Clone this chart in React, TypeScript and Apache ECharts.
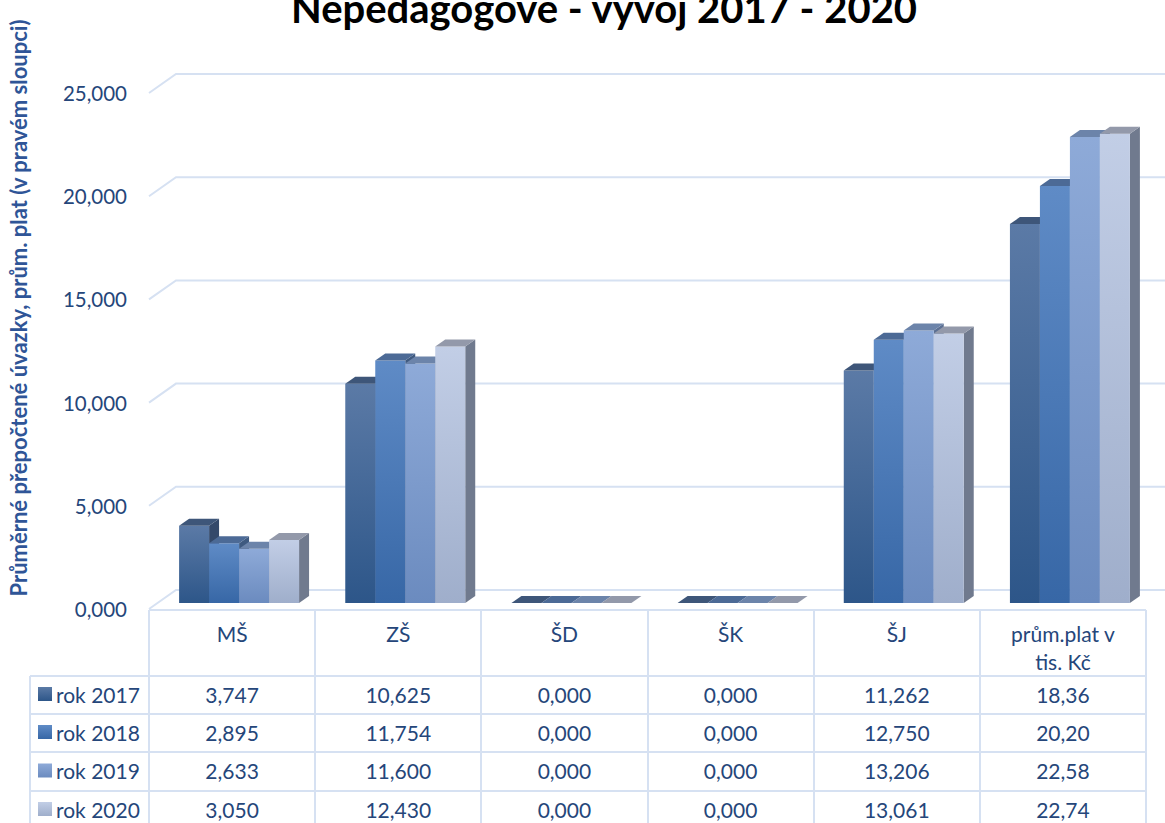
import React, { useEffect, useRef } from "react";
import * as echarts from "echarts";

const categories = ["MŠ", "ZŠ", "ŠD", "ŠK", "ŠJ", "prům.plat v\ntis. Kč"];
const years = ["rok 2017", "rok 2018", "rok 2019", "rok 2020"];
const v2017 = [3.747, 10.625, 0, 0, 11.262, 18.36];
const v2018 = [2.895, 11.754, 0, 0, 12.75, 20.2];
const v2019 = [2.633, 11.6, 0, 0, 13.206, 22.58];
const v2020 = [3.05, 12.43, 0, 0, 13.061, 22.74];
const yTicks = [0, 5, 10, 15, 20, 25];
const seriesValues = [v2017, v2018, v2019, v2020];

const TITLE = "Nepedagogové - vývoj 2017 - 2020";
const YNAME = "Průměrné přepočtené úvazky, prům. plat (v pravém sloupci)";

const FONT = "Lato, 'Open Sans', sans-serif";
const TXT = "#25467a";
const LINE = "#d6e1f2";

const barStyles = [
  { top: "#5b7aa6", bottom: "#2d5689", cap: "#3e5679", side: "#34496a" },
  { top: "#5f8bc6", bottom: "#3767a6", cap: "#4c6a96", side: "#3f5a80" },
  { top: "#8eaad8", bottom: "#6b8bbf", cap: "#6c84aa", side: "#5c7093" },
  { top: "#c2cee6", bottom: "#9faecb", cap: "#9399aa", side: "#707a8e" },
];

// layout
const PLOT_LEFT = 149;
const PLOT_RIGHT = 1146;
const ZERO_Y = 609;
const TOP_Y = 93;
const W = 1165;
const H = 823;
const TABLE_LEFT = 30;
const ROW_LINES = [676, 714, 752, 791, 829];
const BACK_DX = 27;
const BACK_DY = -19;
const BAR_DX = 7;
const BAR_DY = -6;
const CAP_DX = 10;
const CAP_DY = -7;
const BAR_FRAC = 0.1805;

function fmt(v: number, col: number) {
  return v.toFixed(col === 5 ? 2 : 3).replace(".", ",");
}

export default function App() {
  const ref = useRef<HTMLDivElement>(null);
  useEffect(() => {
    const chart = echarts.init(ref.current!, null, { renderer: "svg" });

    const barSeries = seriesValues.map((vals, k) => ({
      type: "custom",
      name: years[k],
      clip: false,
      z: 3,
      data: vals.map((v, i) => [i, v]),
      encode: { x: 0, y: 1 },
      renderItem: (params: any, api: any) => {
        const i = api.value(0);
        const v = api.value(1);
        const base = api.coord([i, 0]);
        const top = api.coord([i, v]);
        const band = api.size([1, 0])[0];
        const bw = band * BAR_FRAC;
        const x0 = base[0] + BAR_DX - 2 * bw + k * bw;
        const yb = base[1] + BAR_DY;
        const yt = top[1] + BAR_DY;
        const s = barStyles[k];
        const children: any[] = [];
        children.push({
          type: "polygon",
          shape: {
            points: [
              [x0 + bw, yt],
              [x0 + bw + CAP_DX, yt + CAP_DY],
              [x0 + bw + CAP_DX, yb + CAP_DY],
              [x0 + bw, yb],
            ],
          },
          style: { fill: s.side },
        });
        if (yb - yt > 0.5) {
          children.push({
            type: "rect",
            shape: { x: x0, y: yt, width: bw, height: yb - yt },
            style: {
              fill: new echarts.graphic.LinearGradient(0, 0, 0, 1, [
                { offset: 0, color: s.top },
                { offset: 1, color: s.bottom },
              ]),
            },
          });
        }
        children.push({
          type: "polygon",
          shape: {
            points: [
              [x0, yt],
              [x0 + CAP_DX, yt + CAP_DY],
              [x0 + bw + CAP_DX, yt + CAP_DY],
              [x0 + bw, yt],
            ],
          },
          style: { fill: s.cap },
        });
        return { type: "group", children };
      },
    }));

    const gridSeries = {
      type: "custom",
      clip: false,
      z: 1,
      silent: true,
      data: yTicks.map((t) => [0, t]),
      encode: { x: 0, y: 1 },
      renderItem: (params: any, api: any) => {
        const y = api.coord([0, api.value(1)])[1];
        const cs = params.coordSys;
        const left = cs.x;
        return {
          type: "polyline",
          shape: {
            points: [
              [left, y],
              [left + BACK_DX, y + BACK_DY],
              [cs.x + cs.width + BACK_DX + 10, y + BACK_DY],
            ],
          },
          style: { stroke: LINE, lineWidth: 2, fill: null },
        };
      },
    };

    const rowCenters = ROW_LINES.slice(0, 4).map((y, k) => (y + ROW_LINES[k + 1]) / 2 - 1);

    const tableData: any[] = [];
    seriesValues.forEach((vals, k) => {
      vals.forEach((v, i) => tableData.push([i, 0, v, k]));
    });
    const tableSeries = {
      type: "custom",
      clip: false,
      z: 5,
      silent: true,
      data: tableData,
      encode: { x: 0, y: 1 },
      renderItem: (params: any, api: any) => {
        const i = api.value(0);
        const v = api.value(2);
        const k = api.value(3);
        const x = api.coord([i, 0])[0];
        return {
          type: "text",
          x,
          y: rowCenters[k],
          style: {
            text: fmt(v, i),
            fill: TXT,
            font: `21px ${FONT}`,
            textAlign: "center",
            textVerticalAlign: "middle",
          },
        };
      },
    };

    const band = (PLOT_RIGHT - PLOT_LEFT) / categories.length;
    const graphics: any[] = [];
    graphics.push({
      type: "line",
      shape: { x1: PLOT_LEFT, y1: ZERO_Y + 1, x2: PLOT_RIGHT, y2: ZERO_Y + 1 },
      style: { stroke: LINE, lineWidth: 2 },
    });
    ROW_LINES.forEach((y) =>
      graphics.push({
        type: "line",
        shape: { x1: TABLE_LEFT, y1: y, x2: PLOT_RIGHT, y2: y },
        style: { stroke: LINE, lineWidth: 2 },
      })
    );
    graphics.push({
      type: "line",
      shape: { x1: TABLE_LEFT, y1: ROW_LINES[0], x2: TABLE_LEFT, y2: H },
      style: { stroke: LINE, lineWidth: 2 },
    });
    for (let c = 0; c <= categories.length; c++) {
      const x = Math.round(PLOT_LEFT + band * c);
      graphics.push({
        type: "line",
        shape: { x1: x, y1: ZERO_Y + 1, x2: x, y2: H },
        style: { stroke: LINE, lineWidth: 2 },
      });
    }
    years.forEach((name, k) => {
      const cy = rowCenters[k];
      graphics.push({
        type: "rect",
        shape: { x: 38, y: cy - 7, width: 14, height: 14 },
        style: {
          fill: new echarts.graphic.LinearGradient(0, 0, 0, 1, [
            { offset: 0, color: barStyles[k].top },
            { offset: 1, color: barStyles[k].bottom },
          ]),
        },
      });
      graphics.push({
        type: "text",
        x: 56,
        y: cy,
        style: {
          text: name,
          fill: TXT,
          font: `21px ${FONT}`,
          textAlign: "left",
          textVerticalAlign: "middle",
        },
      });
    });
    graphics.push({
      type: "text",
      x: 604,
      y: 8,
      style: {
        text: TITLE,
        fill: "#000000",
        font: `bold 40px ${FONT}`,
        textAlign: "center",
        textVerticalAlign: "middle",
      },
    });
    graphics.push({
      type: "text",
      x: 18,
      y: 308,
      rotation: Math.PI / 2,
      style: {
        text: YNAME,
        fill: "#2f5597",
        font: `bold 22px ${FONT}`,
        textAlign: "center",
        textVerticalAlign: "middle",
      },
    });

    chart.setOption({
      animation: false,
      backgroundColor: "#ffffff",
      grid: {
        left: PLOT_LEFT,
        right: W - PLOT_RIGHT,
        top: TOP_Y,
        bottom: H - ZERO_Y,
        containLabel: false,
      },
      xAxis: {
        type: "category",
        data: categories,
        axisLine: { show: false },
        axisTick: { show: false },
        splitLine: { show: false },
        axisLabel: {
          interval: 0,
          margin: 10,
          color: TXT,
          fontFamily: FONT,
          fontSize: 21,
          lineHeight: 28,
          verticalAlign: "top",
        },
      },
      yAxis: {
        type: "value",
        min: 0,
        max: 25,
        interval: 5,
        axisLine: { show: false },
        axisTick: { show: false },
        splitLine: { show: false },
        axisLabel: {
          margin: 22,
          color: TXT,
          fontFamily: FONT,
          fontSize: 20.5,
          formatter: (v: number) => v.toFixed(3).replace(".", ","),
        },
      },
      graphic: graphics,
      series: [gridSeries, ...barSeries, tableSeries],
    });

    return () => chart.dispose();
  }, []);

  return <div ref={ref} style={{ width: W, height: H, position: "absolute", left: 0, top: 0 }} />;
}
